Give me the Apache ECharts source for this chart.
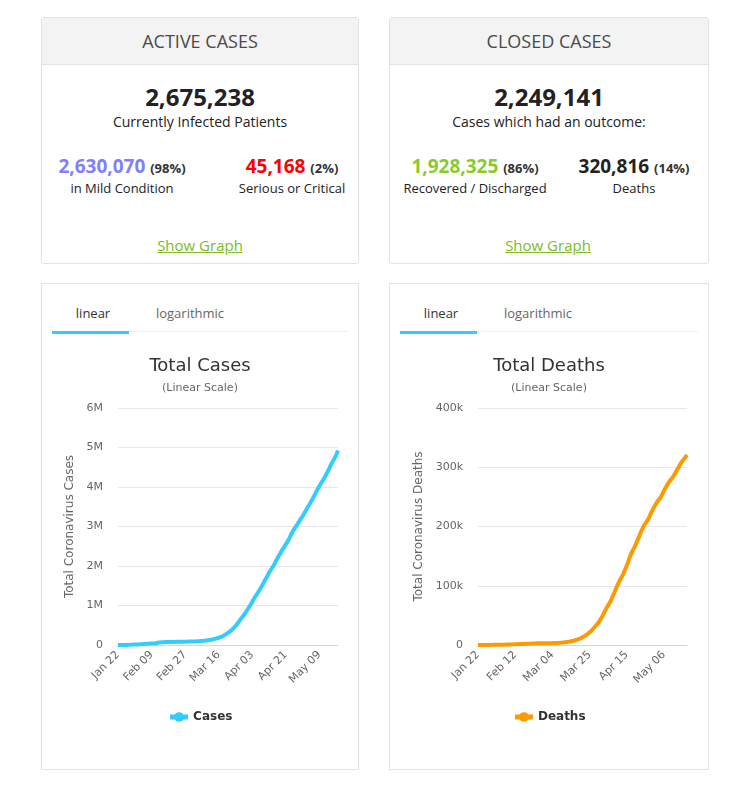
<!DOCTYPE html>
<html>
<head>
<meta charset="utf-8">
<script src="https://cdn.jsdelivr.net/npm/echarts@6/dist/echarts.min.js"></script>
<style>
  body { margin: 0; background: #fff; font-family: "Open Sans", sans-serif; color: #222; }
  .box { position: absolute; border: 1px solid #e2e2e2; border-radius: 3px; background: #fff; box-sizing: border-box; }
  .hdr { position: absolute; left: 0; right: 0; top: 0; height: 46px; line-height: 46px; background: #f3f3f3;
         border-bottom: 1px solid #e2e2e2; text-align: center; font-size: 18px; color: #4a4a4a; }
  .t { position: absolute; transform: translateX(-50%); white-space: nowrap; text-align: center; }
  .big { font-size: 24px; font-weight: 700; color: #222; line-height: 28px; }
  .sub { font-size: 14px; color: #222; line-height: 18px; }
  .num { font-size: 19px; font-weight: 700; line-height: 24px; }
  .pct { font-size: 13px; font-weight: 700; color: #333; }
  .lab { font-size: 13px; color: #222; line-height: 16px; }
  .link { font-size: 15px; color: #7dbb2a; text-decoration: underline; line-height: 18px; }
  .tab { position: absolute; font-size: 13px; line-height: 16px; transform: translateX(-50%); }
  .chart { position: absolute; }
</style>
</head>
<body>

<div class="box" style="left:41px;top:17px;width:318px;height:247px"><div class="hdr">ACTIVE CASES</div></div>
<div class="t big" style="left:200px;top:83px">2,675,238</div>
<div class="t sub" style="left:200px;top:113px">Currently Infected Patients</div>
<div class="t num" style="left:122px;top:154px"><span style="color:#8080ff">2,630,070</span> <span class="pct">(98%)</span></div>
<div class="t lab" style="left:122px;top:180px">in Mild Condition</div>
<div class="t num" style="left:292px;top:154px"><span style="color:#ff0000">45,168</span> <span class="pct">(2%)</span></div>
<div class="t lab" style="left:292px;top:180px">Serious or Critical</div>
<div class="t link" style="left:200px;top:236px">Show Graph</div>

<div class="box" style="left:389px;top:17px;width:320px;height:247px"><div class="hdr">CLOSED CASES</div></div>
<div class="t big" style="left:549px;top:83px">2,249,141</div>
<div class="t sub" style="left:549px;top:113px">Cases which had an outcome:</div>
<div class="t num" style="left:475px;top:154px"><span style="color:#8aca2b">1,928,325</span> <span class="pct">(86%)</span></div>
<div class="t lab" style="left:475px;top:180px">Recovered / Discharged</div>
<div class="t num" style="left:634px;top:154px"><span style="color:#222">320,816</span> <span class="pct">(14%)</span></div>
<div class="t lab" style="left:634px;top:180px">Deaths</div>
<div class="t link" style="left:548px;top:236px">Show Graph</div>

<div class="box" style="left:41px;top:283px;width:318px;height:487px;border-radius:0"></div>
<div class="tab" style="left:93px;top:305px;color:#333">linear</div>
<div class="tab" style="left:190px;top:305px;color:#666">logarithmic</div>
<div style="position:absolute;left:129px;top:331px;width:219px;height:1px;background:#eee"></div>
<div style="position:absolute;left:52px;top:331px;width:77px;height:3px;background:#33ccff"></div>
<div id="casesChart" class="chart" style="left:41px;top:340px;width:318px;height:420px"></div>

<div class="box" style="left:389px;top:283px;width:320px;height:487px;border-radius:0"></div>
<div class="tab" style="left:441px;top:305px;color:#333">linear</div>
<div class="tab" style="left:538px;top:305px;color:#666">logarithmic</div>
<div style="position:absolute;left:477px;top:331px;width:221px;height:1px;background:#eee"></div>
<div style="position:absolute;left:400px;top:331px;width:77px;height:3px;background:#33ccff"></div>
<div id="deathsChart" class="chart" style="left:389px;top:340px;width:320px;height:420px"></div>

<script>
var dates = [
    'Jan 22','Jan 23','Jan 24','Jan 25','Jan 26','Jan 27','Jan 28','Jan 29','Jan 30','Jan 31',
    'Feb 01','Feb 02','Feb 03','Feb 04','Feb 05','Feb 06','Feb 07','Feb 08','Feb 09','Feb 10',
    'Feb 11','Feb 12','Feb 13','Feb 14','Feb 15','Feb 16','Feb 17','Feb 18','Feb 19','Feb 20',
    'Feb 21','Feb 22','Feb 23','Feb 24','Feb 25','Feb 26','Feb 27','Feb 28','Feb 29',
    'Mar 01','Mar 02','Mar 03','Mar 04','Mar 05','Mar 06','Mar 07','Mar 08','Mar 09','Mar 10',
    'Mar 11','Mar 12','Mar 13','Mar 14','Mar 15','Mar 16','Mar 17','Mar 18','Mar 19','Mar 20',
    'Mar 21','Mar 22','Mar 23','Mar 24','Mar 25','Mar 26','Mar 27','Mar 28','Mar 29','Mar 30','Mar 31',
    'Apr 01','Apr 02','Apr 03','Apr 04','Apr 05','Apr 06','Apr 07','Apr 08','Apr 09','Apr 10',
    'Apr 11','Apr 12','Apr 13','Apr 14','Apr 15','Apr 16','Apr 17','Apr 18','Apr 19','Apr 20',
    'Apr 21','Apr 22','Apr 23','Apr 24','Apr 25','Apr 26','Apr 27','Apr 28','Apr 29','Apr 30',
    'May 01','May 02','May 03','May 04','May 05','May 06','May 07','May 08','May 09','May 10',
    'May 11','May 12','May 13','May 14','May 15','May 16','May 17','May 18','May 19'
];

var totalCases = [
    580, 845, 1317, 2015, 2800, 4581, 6058, 7813, 9823, 11950,
    14553, 17391, 20630, 24545, 28266, 31439, 34876, 37552, 40553, 43099,
    45134, 59287, 64438, 67100, 69197, 71329, 73332, 75184, 75700, 76677,
    77673, 78651, 79205, 80087, 80828, 81820, 83112, 84615, 86604,
    88585, 90443, 93016, 95314, 98425, 102050, 106099, 109991, 114381, 118948,
    126214, 134509, 145416, 156475, 169517, 182605, 198771, 218822, 246184, 275997,
    308175, 341585, 383750, 424889, 475553, 538854, 603066, 667810, 727246, 786038, 860244,
    936016, 1015185, 1095943, 1176549, 1249778, 1321437, 1396439, 1480271, 1565538, 1657526,
    1735650, 1834721, 1904838, 1976191, 2056054, 2152437, 2240190, 2317758, 2401378, 2472259,
    2549123, 2624610, 2708885, 2811193, 2896636, 2971475, 3041764, 3116398, 3193886, 3256846,
    3343777, 3427343, 3506729, 3583055, 3662691, 3755341, 3845718, 3938064, 4024009, 4101699,
    4177502, 4261747, 4347018, 4442163, 4542347, 4634068, 4713620, 4801943, 4924379
];

var totalDeaths = [
    17, 25, 41, 56, 80, 106, 132, 170, 213, 259,
    304, 362, 426, 492, 565, 638, 724, 813, 910, 1018,
    1115, 1261, 1383, 1526, 1669, 1775, 1873, 2009, 2126, 2247,
    2360, 2460, 2618, 2699, 2763, 2800, 2858, 2923, 2977,
    3050, 3117, 3202, 3285, 3387, 3494, 3599, 3827, 4025, 4296,
    4628, 4981, 5428, 5833, 6520, 7162, 7979, 8951, 10031, 11386,
    13049, 14724, 16521, 18915, 21303, 24087, 27363, 30877, 34013, 37780, 42327,
    47188, 53218, 59151, 64728, 69411, 74675, 82013, 88466, 95663, 102653,
    108505, 114090, 119703, 126752, 134234, 142236, 150950, 157541, 162985, 169144,
    176504, 183345, 190750, 197376, 203227, 207248, 211635, 217889, 224718, 230522,
    235869, 240918, 244671, 248328, 254344, 260522, 265951, 271115, 275717, 279355,
    282982, 288357, 293670, 298909, 304227, 309011, 312232, 316669, 320816
];

var chartFont = '"DejaVu Sans", sans-serif';

function buildOption(cfg) {
    return {
        animation: false,
        title: {
            text: cfg.title,
            subtext: '(Linear Scale)',
            left: 'center',
            top: 12,
            itemGap: 8,
            textStyle: { fontFamily: chartFont, fontSize: 18, fontWeight: 'normal', color: '#333' },
            subtextStyle: { fontFamily: chartFont, fontSize: 11, color: '#666' }
        },
        legend: {
            data: [cfg.name],
            left: 'center',
            top: 366,
            itemWidth: 18,
            itemHeight: 12,
            lineStyle: { width: 5 },
            textStyle: { fontFamily: chartFont, fontSize: 12, fontWeight: 'bold', color: '#333' }
        },
        grid: { left: cfg.gridLeft, right: cfg.gridRight, top: 68, bottom: 115 },
        xAxis: {
            type: 'category',
            data: dates,
            boundaryGap: false,
            axisLine: { lineStyle: { color: '#ccd6eb' } },
            axisTick: { show: false },
            axisLabel: {
                interval: cfg.labelStep - 1,
                rotate: 45,
                margin: 8,
                fontFamily: chartFont,
                fontSize: 11,
                color: '#666'
            }
        },
        yAxis: {
            type: 'value',
            min: 0,
            max: cfg.max,
            interval: cfg.step,
            name: cfg.axisName,
            nameLocation: 'middle',
            nameGap: cfg.nameGap,
            nameTextStyle: { fontFamily: chartFont, fontSize: 12, color: '#666' },
            axisLine: { show: false },
            axisTick: { show: false },
            splitLine: { lineStyle: { color: '#e6e6e6' } },
            axisLabel: {
                margin: 15,
                fontFamily: chartFont,
                fontSize: 11,
                color: '#666',
                formatter: cfg.fmt
            }
        },
        series: [{
            name: cfg.name,
            type: 'line',
            data: cfg.values,
            showSymbol: false,
            symbol: 'circle',
            symbolSize: 9,
            itemStyle: { color: cfg.color },
            lineStyle: { width: 4, color: cfg.color }
        }]
    };
}

var casesChart = echarts.init(document.getElementById('casesChart'));
casesChart.setOption(buildOption({
    title: 'Total Cases',
    name: 'Cases',
    axisName: 'Total Coronavirus Cases',
    values: totalCases,
    color: '#33ccff',
    max: 6000000,
    step: 1000000,
    labelStep: 18,
    gridLeft: 77,
    gridRight: 21,
    nameGap: 39,
    fmt: function(v) { return v === 0 ? '0' : (v / 1000000) + 'M'; }
}));

var deathsChart = echarts.init(document.getElementById('deathsChart'));
deathsChart.setOption(buildOption({
    title: 'Total Deaths',
    name: 'Deaths',
    axisName: 'Total Coronavirus Deaths',
    values: totalDeaths,
    color: '#ff9900',
    max: 400000,
    step: 100000,
    labelStep: 21,
    gridLeft: 89,
    gridRight: 22,
    nameGap: 51,
    fmt: function(v) { return v === 0 ? '0' : (v / 1000) + 'k'; }
}));
</script>
</body>
</html>
